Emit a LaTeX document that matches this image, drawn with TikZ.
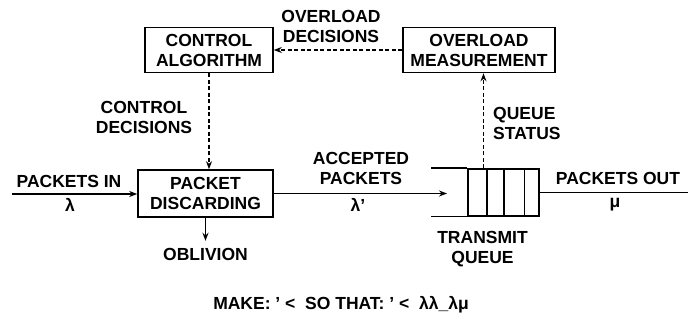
\documentclass[tikz,border=0pt]{standalone}
\usepackage{fontspec}
\setmainfont{Liberation Sans}
\usetikzlibrary{arrows.meta, positioning, calc}

\begin{document}
\begin{tikzpicture}[
    x=1pt, y=-1pt,
    >=Stealth,
    every node/.style={font=\fontsize{17.5}{20}\selectfont\bfseries, align=center, inner sep=0pt},
    box/.style={
        draw=black, line width=1.6pt, fill=white,
        minimum height=45pt, inner sep=3pt
    },
    flow/.style={draw=black, line width=1.5pt, -{Stealth[length=8pt, width=6pt]}},
    ctrl/.style={draw=black, line width=1.2pt, dash pattern=on 4pt off 2.5pt,
        -{Stealth[length=8pt, width=6pt]}},
    wire/.style={draw=black, line width=1.5pt},
    node distance=14pt
]
\useasboundingbox (0,0) rectangle (688,320);

% Control loop
\node[box, minimum width=128pt] (alg) at (209,50) {CONTROL\\ALGORITHM};
\node[box, minimum width=152pt] (meas) at (479,50) {OVERLOAD\\MEASUREMENT};
\node (odec) at (331,26) {OVERLOAD\\DECISIONS};

% Discarding stage
\node[box, minimum width=135pt, minimum height=47pt] (disc) at (205.5,193.5)
    {PACKET\\DISCARDING};
\node (cdec) at (144,117) {CONTROL\\DECISIONS};
\node[below=30pt of disc] (obl) {OBLIVION};

% Transmit queue
\node[wire, minimum width=71pt, minimum height=47pt] (queue) at (503.5,192.5) {};
\draw[wire] (queue.north west) -- ++(-36,0) coordinate (qtop);
\draw[wire] (queue.south west) -- ++(-36,0) coordinate (qbot);
\foreach \f in {0.27,0.51,0.79}
  \draw[wire] ($(queue.north west)!\f!(queue.north east)$)
           -- ($(queue.south west)!\f!(queue.south east)$);
\node[below=14pt of queue.south, xshift=-21pt] (tq) {TRANSMIT\\QUEUE};
\node[anchor=west, align=left] (qstat) at (493,123.5) {QUEUE\\STATUS};

% Line labels
\coordinate (pin) at (12,194);
\coordinate (qtip) at (447,193);
\coordinate (pout) at (688,192);
\node (inlbl) at (69,181) {PACKETS IN};
\node (lamin) at (70,205) {λ};
\node (acc) at (361,168.5) {ACCEPTED\\PACKETS};
\node (lamacc) at (358,205) {λ'};
\node (outlbl) at (618,178.5) {PACKETS OUT};
\node (muout) at (615,205) {μ};

\node (rule) at (341,305) {MAKE: ' <\ \ SO THAT: ' <\ \ λλ\_λμ};

% Edges
\draw[flow] (pin) -- (pin -| disc.west);
\draw[flow] (disc.east) -- (disc.east -| qtip);
\draw[wire] (queue.east) -- (queue.east -| pout);
\draw[flow, shorten >=7pt] (disc.south) -- (obl.north);
\draw[ctrl] (alg.south) -- (alg.south |- disc.north);
\draw[ctrl] (meas.west) -- (alg.east);
\draw[ctrl] ([xshift=-20pt]queue.north) -- ([xshift=-20pt]queue.north |- meas.south);

\end{tikzpicture}
\end{document}
